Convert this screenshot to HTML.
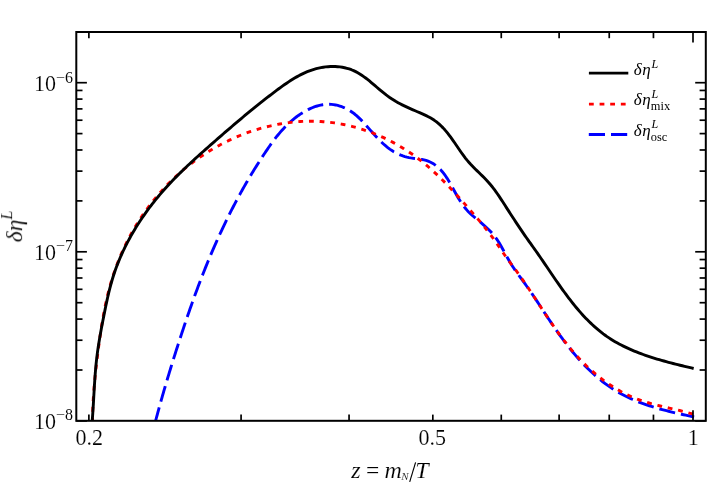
<!DOCTYPE html>
<html><head><meta charset="utf-8"><title>chart</title>
<style>
html,body{margin:0;padding:0;background:#fff;}
body{width:708px;height:485px;overflow:hidden;}
svg{display:block;}
text{font-family:"Liberation Serif",serif;fill:#000;stroke:#fff;stroke-width:0.14px;}
.lg text{stroke:none;}
.it{font-style:italic;}
</style></head><body>
<svg width="708" height="485" viewBox="0 0 708 485">
<rect width="708" height="485" fill="#fff"/>
<defs><filter id="gs" filterUnits="userSpaceOnUse" x="0" y="0" width="708" height="485"><feOffset dx="0" dy="0"/></filter><clipPath id="cp"><rect x="76.3" y="32.0" width="629.5" height="388.8"/></clipPath></defs>
<g clip-path="url(#cp)" fill="none" stroke-linejoin="round">
<path d="M155.04 422.99 L155.59 420.87 L156.15 418.75 L156.72 416.63 L157.29 414.51 L157.86 412.39 L158.44 410.27 L159.02 408.15 L159.60 406.03 L160.19 403.91 L160.78 401.80 L161.38 399.68 L161.98 397.56 L162.58 395.44 L163.19 393.33 L163.80 391.21 L164.41 389.10 L165.03 386.98 L165.65 384.87 L166.28 382.75 L166.90 380.64 L167.53 378.53 L168.17 376.41 L168.80 374.30 L169.44 372.19 L170.09 370.08 L170.73 367.97 L171.38 365.87 L172.03 363.76 L172.69 361.65 L173.34 359.55 L174.00 357.44 L174.66 355.34 L175.33 353.24 L175.99 351.13 L176.66 349.03 L177.34 346.93 L178.01 344.84 L178.69 342.74 L179.36 340.64 L180.05 338.55 L180.73 336.45 L181.42 334.36 L182.10 332.27 L182.80 330.18 L183.49 328.09 L184.19 326.00 L184.89 323.91 L185.59 321.83 L186.30 319.74 L187.01 317.66 L187.72 315.58 L188.44 313.50 L189.16 311.42 L189.89 309.35 L190.62 307.27 L191.35 305.20 L192.08 303.13 L192.82 301.05 L193.57 298.99 L194.32 296.92 L195.07 294.85 L195.83 292.79 L196.59 290.73 L197.35 288.67 L198.12 286.61 L198.90 284.55 L199.68 282.49 L200.46 280.44 L201.25 278.39 L202.05 276.34 L202.85 274.29 L203.65 272.25 L204.46 270.20 L205.28 268.16 L206.10 266.12 L206.93 264.08 L207.76 262.05 L208.60 260.01 L209.44 257.98 L210.29 255.95 L211.15 253.92 L212.01 251.90 L212.88 249.88 L213.75 247.85 L214.63 245.84 L215.52 243.82 L216.41 241.81 L217.31 239.79 L218.22 237.78 L219.13 235.78 L220.05 233.77 L220.98 231.77 L221.91 229.77 L222.85 227.78 L223.80 225.78 L224.75 223.79 L225.71 221.81 L226.68 219.82 L227.65 217.84 L228.63 215.87 L229.62 213.89 L230.61 211.92 L231.61 209.95 L232.62 207.99 L233.63 206.03 L234.65 204.07 L235.68 202.12 L236.72 200.17 L237.76 198.23 L238.81 196.29 L239.86 194.35 L240.93 192.42 L242.00 190.49 L243.07 188.57 L244.16 186.65 L245.25 184.74 L246.35 182.83 L247.45 180.92 L248.57 179.02 L249.69 177.13 L250.81 175.24 L251.95 173.35 L253.09 171.47 L254.24 169.60 L255.39 167.73 L256.56 165.87 L257.73 164.01 L258.90 162.15 L260.09 160.31 L261.28 158.46 L262.48 156.63 L263.69 154.80 L264.90 152.97 L266.12 151.15 L267.36 149.34 L268.60 147.54 L269.85 145.75 L271.12 143.96 L272.40 142.20 L273.71 140.44 L275.03 138.70 L276.37 136.98 L277.74 135.27 L279.13 133.59 L280.55 131.93 L282.00 130.29 L283.47 128.67 L284.98 127.08 L286.53 125.52 L288.11 123.98 L289.73 122.47 L291.38 121.00 L293.08 119.56 L294.82 118.15 L296.61 116.77 L298.44 115.44 L300.31 114.16 L302.21 112.92 L304.15 111.75 L306.12 110.64 L308.13 109.59 L310.15 108.63 L312.21 107.74 L314.28 106.94 L316.37 106.24 L318.48 105.63 L320.60 105.13 L322.74 104.73 L324.88 104.45 L327.03 104.30 L329.18 104.26 L331.33 104.37 L333.47 104.60 L335.61 104.96 L337.72 105.44 L339.82 106.04 L341.88 106.74 L343.90 107.55 L345.88 108.46 L347.80 109.46 L349.67 110.54 L351.47 111.71 L353.22 112.96 L354.91 114.27 L356.55 115.65 L358.15 117.09 L359.72 118.59 L361.26 120.13 L362.78 121.71 L364.28 123.33 L365.78 124.99 L367.27 126.66 L368.77 128.36 L370.27 130.08 L371.79 131.80 L373.33 133.52 L374.88 135.24 L376.46 136.94 L378.05 138.62 L379.66 140.26 L381.29 141.88 L382.94 143.44 L384.62 144.96 L386.32 146.41 L388.05 147.80 L389.80 149.11 L391.58 150.34 L393.39 151.48 L395.22 152.53 L397.09 153.50 L398.99 154.39 L400.91 155.19 L402.87 155.91 L404.87 156.54 L406.90 157.09 L408.96 157.56 L411.07 157.94 L413.20 158.27 L415.35 158.55 L417.52 158.83 L419.68 159.13 L421.84 159.48 L423.96 159.92 L426.06 160.47 L428.11 161.16 L430.11 162.01 L432.04 162.99 L433.90 164.10 L435.67 165.32 L437.34 166.66 L438.94 168.09 L440.46 169.61 L441.91 171.22 L443.30 172.90 L444.63 174.65 L445.91 176.47 L447.14 178.33 L448.34 180.24 L449.50 182.19 L450.64 184.16 L451.76 186.16 L452.87 188.18 L453.97 190.20 L455.07 192.21 L456.17 194.22 L457.29 196.22 L458.42 198.18 L459.59 200.12 L460.78 202.02 L462.01 203.87 L463.28 205.66 L464.60 207.39 L465.98 209.05 L467.42 210.64 L468.90 212.17 L470.43 213.65 L472.00 215.09 L473.60 216.49 L475.22 217.88 L476.86 219.25 L478.50 220.62 L480.16 221.99 L481.81 223.38 L483.45 224.79 L485.08 226.23 L486.68 227.70 L488.26 229.20 L489.80 230.74 L491.30 232.32 L492.75 233.95 L494.15 235.63 L495.48 237.37 L496.76 239.16 L497.99 241.00 L499.17 242.89 L500.31 244.80 L501.43 246.74 L502.52 248.71 L503.59 250.68 L504.66 252.66 L505.73 254.64 L506.80 256.62 L507.89 258.57 L509.00 260.51 L510.13 262.42 L511.30 264.31 L512.49 266.16 L513.70 268.00 L514.92 269.82 L516.17 271.62 L517.43 273.40 L518.70 275.18 L519.98 276.94 L521.26 278.70 L522.54 280.46 L523.83 282.21 L525.11 283.97 L526.38 285.73 L527.65 287.50 L528.90 289.28 L530.15 291.07 L531.38 292.86 L532.61 294.66 L533.84 296.47 L535.05 298.28 L536.27 300.10 L537.47 301.92 L538.68 303.75 L539.88 305.58 L541.09 307.41 L542.29 309.25 L543.49 311.08 L544.69 312.92 L545.90 314.76 L547.11 316.60 L548.32 318.44 L549.54 320.27 L550.77 322.11 L552.00 323.94 L553.24 325.77 L554.49 327.60 L555.75 329.42 L557.02 331.24 L558.29 333.05 L559.58 334.86 L560.88 336.66 L562.20 338.45 L563.52 340.24 L564.85 342.02 L566.20 343.78 L567.56 345.54 L568.93 347.29 L570.32 349.02 L571.71 350.75 L573.12 352.46 L574.55 354.16 L575.98 355.84 L577.44 357.52 L578.90 359.17 L580.38 360.81 L581.88 362.43 L583.39 364.04 L584.91 365.63 L586.45 367.20 L588.01 368.75 L589.59 370.28 L591.17 371.80 L592.78 373.29 L594.40 374.75 L596.05 376.20 L597.70 377.63 L599.38 379.03 L601.07 380.40 L602.78 381.75 L604.51 383.08 L606.26 384.38 L608.03 385.65 L609.82 386.90 L611.63 388.12 L613.45 389.30 L615.30 390.46 L617.17 391.59 L619.05 392.69 L620.96 393.76 L622.89 394.80 L624.84 395.80 L626.80 396.78 L628.79 397.72 L630.79 398.64 L632.81 399.54 L634.84 400.40 L636.89 401.24 L638.94 402.06 L641.02 402.85 L643.10 403.61 L645.19 404.36 L647.29 405.08 L649.41 405.78 L651.52 406.46 L653.65 407.12 L655.78 407.76 L657.92 408.39 L660.06 408.99 L662.20 409.58 L664.35 410.16 L666.50 410.72 L668.65 411.26 L670.79 411.79 L672.94 412.31 L675.08 412.82 L677.23 413.31 L679.36 413.80 L681.49 414.27 L683.62 414.74 L685.74 415.20 L687.85 415.65 L689.96 416.09 L692.05 416.53 L694.13 416.97" stroke="#0000ff" stroke-width="2.9" stroke-dasharray="16.2 5.955" stroke-dashoffset="0.0"/>
<path d="M92.52 422.00 L92.53 419.76 L92.56 417.51 L92.60 415.26 L92.66 413.00 L92.73 410.74 L92.81 408.48 L92.90 406.21 L93.01 403.94 L93.13 401.66 L93.26 399.39 L93.40 397.11 L93.55 394.82 L93.71 392.54 L93.88 390.25 L94.07 387.96 L94.26 385.66 L94.46 383.37 L94.67 381.07 L94.89 378.77 L95.11 376.47 L95.35 374.17 L95.59 371.87 L95.84 369.56 L96.09 367.26 L96.36 364.95 L96.63 362.65 L96.90 360.34 L97.18 358.04 L97.47 355.73 L97.76 353.43 L98.05 351.12 L98.35 348.82 L98.65 346.51 L98.96 344.21 L99.27 341.91 L99.59 339.61 L99.91 337.31 L100.24 335.02 L100.58 332.72 L100.92 330.43 L101.27 328.14 L101.63 325.85 L102.00 323.56 L102.38 321.28 L102.77 319.00 L103.17 316.72 L103.58 314.45 L104.00 312.18 L104.44 309.91 L104.88 307.65 L105.35 305.39 L105.82 303.13 L106.31 300.88 L106.82 298.64 L107.34 296.40 L107.88 294.16 L108.44 291.93 L109.01 289.70 L109.60 287.48 L110.21 285.26 L110.84 283.05 L111.49 280.85 L112.16 278.65 L112.85 276.46 L113.56 274.27 L114.29 272.10 L115.04 269.92 L115.82 267.76 L116.61 265.60 L117.43 263.45 L118.26 261.31 L119.12 259.17 L120.00 257.05 L120.90 254.93 L121.81 252.82 L122.75 250.72 L123.71 248.63 L124.69 246.54 L125.69 244.47 L126.71 242.41 L127.74 240.35 L128.80 238.31 L129.88 236.28 L130.98 234.25 L132.09 232.24 L133.23 230.24 L134.39 228.25 L135.56 226.27 L136.75 224.30 L137.97 222.35 L139.20 220.40 L140.45 218.47 L141.72 216.55 L143.01 214.65 L144.32 212.76 L145.65 210.87 L146.99 209.01 L148.35 207.15 L149.74 205.31 L151.14 203.49 L152.56 201.68 L153.99 199.88 L155.45 198.10 L156.92 196.33 L158.41 194.58 L159.92 192.84 L161.45 191.11 L162.99 189.41 L164.55 187.72 L166.13 186.04 L167.73 184.38 L169.35 182.74 L170.98 181.12 L172.63 179.51 L174.29 177.92 L175.98 176.34 L177.68 174.79 L179.40 173.25 L181.13 171.73 L182.88 170.22 L184.65 168.74 L186.43 167.27 L188.23 165.83 L190.05 164.40 L191.89 162.99 L193.74 161.60 L195.60 160.23 L197.48 158.89 L199.38 157.56 L201.29 156.25 L203.22 154.96 L205.16 153.69 L207.11 152.45 L209.08 151.22 L211.06 150.02 L213.06 148.83 L215.06 147.67 L217.08 146.53 L219.12 145.42 L221.16 144.32 L223.22 143.25 L225.29 142.20 L227.37 141.18 L229.46 140.17 L231.56 139.19 L233.67 138.24 L235.79 137.30 L237.92 136.40 L240.06 135.51 L242.21 134.65 L244.37 133.82 L246.53 133.01 L248.71 132.22 L250.89 131.46 L253.08 130.73 L255.28 130.02 L257.48 129.33 L259.70 128.68 L261.91 128.05 L264.14 127.44 L266.37 126.86 L268.61 126.31 L270.85 125.79 L273.09 125.29 L275.34 124.82 L277.60 124.38 L279.86 123.97 L282.12 123.58 L284.39 123.23 L286.66 122.90 L288.94 122.60 L291.21 122.33 L293.49 122.08 L295.77 121.87 L298.06 121.69 L300.34 121.53 L302.63 121.41 L304.91 121.32 L307.20 121.25 L309.49 121.22 L311.78 121.22 L314.07 121.25 L316.35 121.31 L318.64 121.40 L320.93 121.52 L323.21 121.68 L325.49 121.86 L327.77 122.08 L330.05 122.33 L332.33 122.61 L334.60 122.93 L336.87 123.27 L339.14 123.65 L341.40 124.06 L343.66 124.49 L345.91 124.96 L348.15 125.46 L350.39 125.99 L352.63 126.55 L354.86 127.14 L357.08 127.76 L359.29 128.40 L361.50 129.08 L363.70 129.79 L365.89 130.52 L368.07 131.29 L370.24 132.08 L372.41 132.90 L374.56 133.75 L376.70 134.63 L378.83 135.53 L380.96 136.46 L383.07 137.42 L385.16 138.41 L387.25 139.42 L389.32 140.46 L391.38 141.53 L393.43 142.63 L395.46 143.74 L397.48 144.89 L399.49 146.06 L401.48 147.25 L403.45 148.47 L405.41 149.71 L407.36 150.97 L409.29 152.25 L411.20 153.56 L413.09 154.89 L414.97 156.24 L416.82 157.61 L418.67 159.00 L420.49 160.41 L422.29 161.84 L424.08 163.28 L425.84 164.75 L427.59 166.23 L429.33 167.73 L431.05 169.24 L432.75 170.77 L434.44 172.32 L436.12 173.88 L437.78 175.46 L439.43 177.05 L441.07 178.65 L442.70 180.26 L444.32 181.89 L445.93 183.53 L447.52 185.17 L449.11 186.83 L450.70 188.50 L452.27 190.18 L453.84 191.86 L455.40 193.56 L456.96 195.26 L458.51 196.97 L460.06 198.68 L461.60 200.40 L463.15 202.13 L464.69 203.86 L466.22 205.60 L467.76 207.33 L469.29 209.08 L470.82 210.83 L472.35 212.58 L473.86 214.33 L475.38 216.10 L476.88 217.86 L478.38 219.64 L479.86 221.42 L481.34 223.20 L482.80 224.99 L484.26 226.79 L485.70 228.59 L487.12 230.40 L488.53 232.21 L489.93 234.03 L491.31 235.86 L492.67 237.70 L494.01 239.54 L495.33 241.39 L496.64 243.25 L497.93 245.11 L499.21 246.98 L500.49 248.84 L501.77 250.72 L503.05 252.59 L504.33 254.46 L505.63 256.33 L506.95 258.19 L508.28 260.05 L509.64 261.90 L511.02 263.76 L512.40 265.61 L513.79 267.46 L515.17 269.32 L516.55 271.18 L517.91 273.06 L519.26 274.94 L520.60 276.83 L521.93 278.73 L523.25 280.63 L524.56 282.54 L525.86 284.46 L527.16 286.38 L528.45 288.30 L529.73 290.23 L531.01 292.16 L532.29 294.09 L533.56 296.02 L534.83 297.96 L536.10 299.90 L537.36 301.83 L538.63 303.77 L539.89 305.71 L541.16 307.64 L542.42 309.58 L543.69 311.51 L544.96 313.44 L546.24 315.36 L547.52 317.28 L548.81 319.20 L550.10 321.11 L551.39 323.02 L552.70 324.92 L554.01 326.81 L555.33 328.70 L556.66 330.57 L558.00 332.44 L559.36 334.31 L560.72 336.16 L562.09 338.00 L563.48 339.83 L564.88 341.65 L566.30 343.46 L567.73 345.26 L569.18 347.04 L570.64 348.81 L572.12 350.57 L573.62 352.31 L575.14 354.04 L576.67 355.76 L578.23 357.45 L579.80 359.14 L581.40 360.80 L583.01 362.44 L584.64 364.07 L586.29 365.68 L587.96 367.27 L589.65 368.83 L591.36 370.38 L593.08 371.90 L594.83 373.40 L596.59 374.88 L598.38 376.34 L600.18 377.76 L602.00 379.17 L603.84 380.55 L605.69 381.90 L607.57 383.22 L609.47 384.52 L611.38 385.79 L613.31 387.02 L615.26 388.23 L617.23 389.41 L619.22 390.56 L621.22 391.67 L623.25 392.75 L625.29 393.80 L627.35 394.81 L629.43 395.79 L631.52 396.74 L633.64 397.65 L635.77 398.52 L637.92 399.35 L640.09 400.15 L642.28 400.91 L644.48 401.63 L646.69 402.33 L648.92 402.99 L651.16 403.63 L653.41 404.25 L655.67 404.84 L657.93 405.42 L660.19 405.98 L662.46 406.52 L664.73 407.06 L667.00 407.59 L669.27 408.11 L671.54 408.63 L673.80 409.15 L676.05 409.68 L678.30 410.21 L680.53 410.75 L682.76 411.30 L684.97 411.86 L687.16 412.44 L689.35 413.04 L691.51 413.66 L693.65 414.30" stroke="#ff0000" stroke-width="2.9" stroke-dasharray="4.8 5.83" stroke-dashoffset="0.35"/>
<path d="M92.03 422.92 L92.23 420.58 L92.41 418.23 L92.59 415.89 L92.75 413.53 L92.91 411.18 L93.06 408.82 L93.21 406.46 L93.35 404.10 L93.49 401.73 L93.63 399.37 L93.76 397.00 L93.89 394.62 L94.03 392.25 L94.17 389.88 L94.31 387.50 L94.45 385.12 L94.60 382.74 L94.76 380.36 L94.92 377.98 L95.10 375.60 L95.28 373.22 L95.47 370.84 L95.68 368.45 L95.90 366.07 L96.13 363.69 L96.38 361.31 L96.65 358.93 L96.93 356.55 L97.23 354.17 L97.54 351.79 L97.88 349.41 L98.23 347.03 L98.59 344.66 L98.97 342.29 L99.36 339.92 L99.76 337.55 L100.17 335.18 L100.59 332.82 L101.02 330.46 L101.45 328.10 L101.90 325.74 L102.35 323.39 L102.80 321.04 L103.26 318.69 L103.72 316.35 L104.18 314.01 L104.65 311.68 L105.11 309.35 L105.59 307.02 L106.07 304.70 L106.56 302.38 L107.06 300.07 L107.57 297.76 L108.10 295.46 L108.63 293.16 L109.19 290.87 L109.76 288.59 L110.36 286.31 L110.97 284.03 L111.61 281.76 L112.27 279.50 L112.95 277.25 L113.67 275.00 L114.41 272.76 L115.18 270.52 L115.97 268.29 L116.80 266.07 L117.65 263.86 L118.52 261.66 L119.43 259.46 L120.36 257.27 L121.31 255.09 L122.29 252.92 L123.30 250.76 L124.32 248.60 L125.38 246.46 L126.45 244.33 L127.55 242.20 L128.67 240.09 L129.82 237.98 L130.98 235.89 L132.17 233.80 L133.38 231.73 L134.61 229.67 L135.86 227.62 L137.13 225.58 L138.42 223.55 L139.72 221.53 L141.05 219.53 L142.40 217.54 L143.76 215.56 L145.14 213.59 L146.54 211.63 L147.96 209.69 L149.39 207.76 L150.84 205.85 L152.31 203.95 L153.79 202.06 L155.28 200.19 L156.79 198.33 L158.32 196.48 L159.86 194.65 L161.41 192.84 L162.98 191.04 L164.55 189.25 L166.14 187.48 L167.75 185.73 L169.36 183.98 L170.99 182.25 L172.62 180.54 L174.27 178.83 L175.93 177.14 L177.60 175.46 L179.27 173.79 L180.96 172.12 L182.65 170.47 L184.35 168.83 L186.06 167.20 L187.78 165.57 L189.51 163.95 L191.24 162.34 L192.97 160.74 L194.72 159.14 L196.47 157.54 L198.22 155.96 L199.98 154.37 L201.74 152.79 L203.51 151.22 L205.28 149.64 L207.06 148.07 L208.84 146.50 L210.62 144.94 L212.40 143.37 L214.18 141.81 L215.97 140.24 L217.76 138.68 L219.55 137.12 L221.34 135.56 L223.14 134.00 L224.93 132.44 L226.73 130.88 L228.54 129.33 L230.35 127.78 L232.16 126.23 L233.97 124.68 L235.79 123.14 L237.61 121.60 L239.43 120.06 L241.26 118.53 L243.09 116.99 L244.93 115.47 L246.77 113.94 L248.61 112.42 L250.46 110.90 L252.31 109.39 L254.17 107.88 L256.03 106.38 L257.90 104.88 L259.77 103.38 L261.65 101.90 L263.54 100.41 L265.42 98.93 L267.32 97.46 L269.22 95.99 L271.12 94.53 L273.03 93.07 L274.95 91.62 L276.87 90.18 L278.80 88.74 L280.74 87.32 L282.69 85.92 L284.65 84.53 L286.63 83.18 L288.61 81.84 L290.61 80.54 L292.63 79.28 L294.67 78.05 L296.72 76.87 L298.79 75.73 L300.89 74.64 L303.01 73.60 L305.15 72.62 L307.31 71.70 L309.51 70.84 L311.73 70.05 L313.97 69.33 L316.25 68.69 L318.56 68.12 L320.90 67.63 L323.26 67.23 L325.64 66.91 L328.04 66.68 L330.43 66.54 L332.83 66.49 L335.23 66.54 L337.62 66.69 L339.99 66.93 L342.33 67.28 L344.66 67.73 L346.95 68.29 L349.20 68.96 L351.41 69.74 L353.57 70.63 L355.69 71.64 L357.75 72.75 L359.78 73.94 L361.77 75.22 L363.72 76.58 L365.65 77.99 L367.55 79.46 L369.43 80.97 L371.30 82.52 L373.16 84.09 L375.01 85.68 L376.85 87.26 L378.70 88.85 L380.55 90.42 L382.42 91.97 L384.29 93.48 L386.19 94.95 L388.11 96.36 L390.05 97.72 L392.02 99.02 L394.01 100.27 L396.02 101.48 L398.06 102.64 L400.13 103.76 L402.21 104.84 L404.32 105.89 L406.45 106.92 L408.60 107.91 L410.77 108.89 L412.96 109.84 L415.17 110.79 L417.39 111.73 L419.60 112.67 L421.81 113.64 L424.00 114.63 L426.16 115.65 L428.29 116.72 L430.36 117.85 L432.38 119.05 L434.34 120.32 L436.21 121.67 L438.02 123.12 L439.76 124.63 L441.44 126.22 L443.06 127.88 L444.63 129.60 L446.15 131.37 L447.63 133.19 L449.08 135.05 L450.50 136.95 L451.89 138.88 L453.27 140.83 L454.63 142.80 L455.99 144.79 L457.34 146.78 L458.70 148.78 L460.07 150.76 L461.45 152.74 L462.86 154.70 L464.30 156.64 L465.76 158.55 L467.27 160.43 L468.83 162.26 L470.43 164.06 L472.07 165.81 L473.75 167.53 L475.45 169.22 L477.17 170.90 L478.89 172.57 L480.60 174.23 L482.31 175.89 L483.99 177.57 L485.64 179.26 L487.26 180.97 L488.82 182.71 L490.34 184.49 L491.81 186.29 L493.24 188.12 L494.64 189.98 L496.01 191.86 L497.35 193.77 L498.67 195.69 L499.98 197.64 L501.27 199.60 L502.56 201.58 L503.85 203.58 L505.14 205.58 L506.44 207.60 L507.75 209.63 L509.06 211.66 L510.37 213.69 L511.69 215.73 L513.02 217.77 L514.35 219.81 L515.69 221.84 L517.03 223.87 L518.37 225.89 L519.71 227.90 L521.06 229.90 L522.41 231.89 L523.76 233.86 L525.11 235.81 L526.46 237.75 L527.81 239.66 L529.16 241.56 L530.51 243.46 L531.86 245.35 L533.21 247.23 L534.56 249.12 L535.90 251.02 L537.25 252.92 L538.59 254.84 L539.92 256.77 L541.26 258.71 L542.60 260.66 L543.93 262.62 L545.27 264.59 L546.60 266.56 L547.94 268.54 L549.29 270.52 L550.63 272.50 L551.98 274.49 L553.34 276.48 L554.70 278.46 L556.06 280.45 L557.44 282.43 L558.82 284.41 L560.21 286.38 L561.60 288.35 L563.01 290.31 L564.43 292.26 L565.86 294.21 L567.29 296.14 L568.75 298.06 L570.21 299.97 L571.69 301.87 L573.18 303.75 L574.69 305.61 L576.21 307.46 L577.75 309.29 L579.31 311.10 L580.88 312.89 L582.47 314.66 L584.08 316.41 L585.72 318.13 L587.37 319.83 L589.04 321.50 L590.73 323.15 L592.45 324.77 L594.19 326.36 L595.95 327.92 L597.74 329.45 L599.55 330.94 L601.39 332.40 L603.25 333.83 L605.15 335.22 L607.06 336.58 L609.01 337.90 L610.99 339.18 L612.99 340.42 L615.02 341.63 L617.07 342.80 L619.15 343.94 L621.24 345.05 L623.36 346.12 L625.50 347.17 L627.66 348.18 L629.84 349.16 L632.03 350.12 L634.24 351.05 L636.47 351.95 L638.70 352.82 L640.95 353.68 L643.21 354.50 L645.49 355.31 L647.77 356.09 L650.06 356.85 L652.35 357.59 L654.66 358.31 L656.96 359.02 L659.27 359.70 L661.59 360.37 L663.90 361.02 L666.22 361.66 L668.53 362.28 L670.85 362.89 L673.16 363.49 L675.47 364.08 L677.77 364.65 L680.07 365.22 L682.36 365.78 L684.64 366.33 L686.91 366.87 L689.17 367.41 L691.42 367.94 L693.66 368.47" stroke="#000" stroke-width="2.9"/>
</g>
<g stroke="#000" stroke-width="1.7" fill="none">
<line x1="88.88" x2="88.88" y1="420.80" y2="414.60"/>
<line x1="88.88" x2="88.88" y1="32.00" y2="38.20"/>
<line x1="241.08" x2="241.08" y1="420.80" y2="414.60"/>
<line x1="241.08" x2="241.08" y1="32.00" y2="38.20"/>
<line x1="349.06" x2="349.06" y1="420.80" y2="414.60"/>
<line x1="349.06" x2="349.06" y1="32.00" y2="38.20"/>
<line x1="432.82" x2="432.82" y1="420.80" y2="414.60"/>
<line x1="432.82" x2="432.82" y1="32.00" y2="38.20"/>
<line x1="501.26" x2="501.26" y1="420.80" y2="414.60"/>
<line x1="501.26" x2="501.26" y1="32.00" y2="38.20"/>
<line x1="559.12" x2="559.12" y1="420.80" y2="414.60"/>
<line x1="559.12" x2="559.12" y1="32.00" y2="38.20"/>
<line x1="609.24" x2="609.24" y1="420.80" y2="414.60"/>
<line x1="609.24" x2="609.24" y1="32.00" y2="38.20"/>
<line x1="653.45" x2="653.45" y1="420.80" y2="414.60"/>
<line x1="653.45" x2="653.45" y1="32.00" y2="38.20"/>
<line x1="693.00" x2="693.00" y1="420.80" y2="410.20"/>
<line x1="693.00" x2="693.00" y1="32.00" y2="42.60"/>
<line x1="76.30" x2="86.90" y1="420.90" y2="420.90"/>
<line x1="705.80" x2="695.20" y1="420.90" y2="420.90"/>
<line x1="76.30" x2="82.50" y1="370.00" y2="370.00"/>
<line x1="705.80" x2="699.60" y1="370.00" y2="370.00"/>
<line x1="76.30" x2="82.50" y1="340.22" y2="340.22"/>
<line x1="705.80" x2="699.60" y1="340.22" y2="340.22"/>
<line x1="76.30" x2="82.50" y1="319.09" y2="319.09"/>
<line x1="705.80" x2="699.60" y1="319.09" y2="319.09"/>
<line x1="76.30" x2="82.50" y1="302.70" y2="302.70"/>
<line x1="705.80" x2="699.60" y1="302.70" y2="302.70"/>
<line x1="76.30" x2="82.50" y1="289.31" y2="289.31"/>
<line x1="705.80" x2="699.60" y1="289.31" y2="289.31"/>
<line x1="76.30" x2="82.50" y1="277.99" y2="277.99"/>
<line x1="705.80" x2="699.60" y1="277.99" y2="277.99"/>
<line x1="76.30" x2="82.50" y1="268.19" y2="268.19"/>
<line x1="705.80" x2="699.60" y1="268.19" y2="268.19"/>
<line x1="76.30" x2="82.50" y1="259.54" y2="259.54"/>
<line x1="705.80" x2="699.60" y1="259.54" y2="259.54"/>
<line x1="76.30" x2="86.90" y1="251.80" y2="251.80"/>
<line x1="705.80" x2="695.20" y1="251.80" y2="251.80"/>
<line x1="76.30" x2="82.50" y1="200.90" y2="200.90"/>
<line x1="705.80" x2="699.60" y1="200.90" y2="200.90"/>
<line x1="76.30" x2="82.50" y1="171.12" y2="171.12"/>
<line x1="705.80" x2="699.60" y1="171.12" y2="171.12"/>
<line x1="76.30" x2="82.50" y1="149.99" y2="149.99"/>
<line x1="705.80" x2="699.60" y1="149.99" y2="149.99"/>
<line x1="76.30" x2="82.50" y1="133.60" y2="133.60"/>
<line x1="705.80" x2="699.60" y1="133.60" y2="133.60"/>
<line x1="76.30" x2="82.50" y1="120.21" y2="120.21"/>
<line x1="705.80" x2="699.60" y1="120.21" y2="120.21"/>
<line x1="76.30" x2="82.50" y1="108.89" y2="108.89"/>
<line x1="705.80" x2="699.60" y1="108.89" y2="108.89"/>
<line x1="76.30" x2="82.50" y1="99.09" y2="99.09"/>
<line x1="705.80" x2="699.60" y1="99.09" y2="99.09"/>
<line x1="76.30" x2="82.50" y1="90.44" y2="90.44"/>
<line x1="705.80" x2="699.60" y1="90.44" y2="90.44"/>
<line x1="76.30" x2="86.90" y1="82.70" y2="82.70"/>
<line x1="705.80" x2="695.20" y1="82.70" y2="82.70"/>
</g>
<rect x="76.3" y="32.0" width="629.50" height="388.80" fill="none" stroke="#000" stroke-width="2.0"/>

<g id="txt" filter="url(#gs)">
<!-- y tick labels -->
<g font-size="22">
<text transform="translate(34.0 91.1) scale(1 1.09)">10<tspan font-size="16" dy="-7.9" stroke-width="0.05">−6</tspan></text>
<text transform="translate(34.0 259.9) scale(1 1.09)">10<tspan font-size="16" dy="-7.9" stroke-width="0.05">−7</tspan></text>
<text transform="translate(34.0 428.9) scale(1 1.09)">10<tspan font-size="16" dy="-7.9" stroke-width="0.05">−8</tspan></text>
</g>
<!-- x tick labels -->
<g font-size="22" text-anchor="middle">
<text transform="translate(89.3 445.4) scale(1 1.09)">0.2</text>
<text transform="translate(432.2 445.4) scale(1 1.09)">0.5</text>
<text transform="translate(693.2 445.4) scale(1 1.09)">1</text>
</g>
<!-- x axis label -->
<g class="it" font-size="24">
<text x="351.3" y="478.1">z</text>
<text x="364.5" y="478.0" font-size="23.5">=</text>
<text x="384.5" y="478.1">m</text>
<text x="401.2" y="480.3" font-size="11" stroke="none">N</text>
<line x1="409.7" y1="481.8" x2="415.6" y2="462.3" stroke="#000" stroke-width="1.15"/>
<text x="415.2" y="478.1">T</text>
</g>
<!-- y axis label -->
<text class="it" font-size="23.5" transform="translate(22.1 242.3) rotate(-90)">δη<tspan font-size="16.5" dy="-9.7">L</tspan></text>

</g>
<!-- legend -->
<g fill="none" stroke-width="2.9">
<line x1="588.9" x2="628.3" y1="73.1" y2="73.1" stroke="#000"/>
<line x1="588.95" x2="628.5" y1="104.1" y2="104.1" stroke="#ff0000" stroke-dasharray="4.8 5.83"/>
<line x1="588.8" x2="628.5" y1="134.45" y2="134.45" stroke="#0000ff" stroke-dasharray="16.2 6"/>
</g>
<g class="it lg" font-size="17" filter="url(#gs)">
<text x="633.7" y="74.8" letter-spacing="0.6">δη</text><text x="651.5" y="68.2" font-size="12">L</text>
<text x="633.7" y="105.2" letter-spacing="0.6">δη</text><text x="651.5" y="98.0" font-size="12">L</text>
<text x="650.8" y="109.6" font-size="12.4" font-style="normal">mix</text>
<text x="633.7" y="135.6" letter-spacing="0.6">δη</text><text x="651.5" y="128.4" font-size="12">L</text>
<text x="650.8" y="141.0" font-size="12.4" font-style="normal">osc</text>
</g>
</svg>
</body></html>
